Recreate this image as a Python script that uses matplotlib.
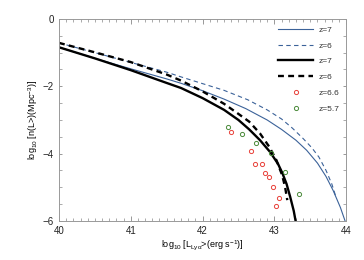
import numpy as np
import matplotlib
matplotlib.use("Agg")
import matplotlib.pyplot as plt
from matplotlib.ticker import MultipleLocator
from matplotlib.legend_handler import HandlerLine2D

plt.rcParams['font.family'] = ['Liberation Sans', 'DejaVu Sans']
plt.rcParams['mathtext.fontset'] = 'custom'
plt.rcParams['mathtext.rm'] = 'Liberation Sans'
plt.rcParams['mathtext.it'] = 'Liberation Sans'

# model curves: log10 L vs log10 n(>L)
blue_solid_x = [40, 40.5, 41, 41.5, 41.7, 42.0, 42.3, 42.6, 42.9, 43.1, 43.3, 43.45, 43.6, 43.72, 43.82, 43.92, 43.99]
blue_solid_y = [-0.84, -1.17, -1.48, -1.78, -1.91, -2.13, -2.38, -2.66, -3.00, -3.28, -3.60, -3.90, -4.28, -4.68, -5.10, -5.60, -6.03]

blue_dash_x = [40, 40.5, 41, 41.5, 41.7, 42.0, 42.3, 42.63, 42.9, 43.1, 43.25, 43.4, 43.52, 43.62, 43.72, 43.8, 43.86]
blue_dash_y = [-0.71, -1.00, -1.29, -1.58, -1.72, -1.92, -2.12, -2.40, -2.70, -2.97, -3.24, -3.55, -3.82, -4.10, -4.50, -4.90, -5.30]

black_solid_x = [40, 40.5, 41, 41.5, 41.7, 42.0, 42.3, 42.5, 42.65, 42.8, 42.94, 43.05, 43.11, 43.17, 43.22, 43.27, 43.3]
black_solid_y = [-0.84, -1.17, -1.52, -1.90, -2.05, -2.35, -2.70, -3.00, -3.28, -3.60, -3.95, -4.30, -4.57, -4.90, -5.28, -5.70, -6.05]

black_dash_x = [40, 40.5, 41, 41.5, 41.7, 42.0, 42.3, 42.5, 42.65, 42.8, 42.93, 43.03, 43.11, 43.15, 43.18]
black_dash_y = [-0.71, -0.99, -1.28, -1.65, -1.83, -2.15, -2.52, -2.82, -3.05, -3.40, -3.80, -4.20, -4.65, -5.00, -5.38]

# observed points
z66_x = [42.39, 42.67, 42.73, 42.83, 42.87, 42.93, 42.98, 43.06, 43.02]
z66_y = [-3.35, -3.91, -4.32, -4.32, -4.58, -4.70, -4.98, -5.33, -5.55]

z57_x = [42.35, 42.55, 42.75, 42.95, 43.15, 43.35]
z57_y = [-3.20, -3.42, -3.67, -3.97, -4.53, -5.21]

blue = '#3b6299'


class RightMarker(HandlerLine2D):
    # put the single legend marker at the right end of the handle
    def get_xdata(self, legend, xdescent, ydescent, width, height, fontsize):
        xdata = np.array([-xdescent, -xdescent + width])
        return xdata, np.array([-xdescent + 0.92 * width])


fig = plt.figure(figsize=(3.64, 2.60), dpi=100)
ax = fig.add_axes([0.162, 0.15, 0.789, 0.777])

ax.plot(blue_solid_x, blue_solid_y, '-', color=blue, lw=0.8, label='z=7')
ax.plot(blue_dash_x, blue_dash_y, '--', color=blue, lw=0.8, dashes=(4, 3), label='z=6')
ax.plot(black_solid_x, black_solid_y, '-', color='black', lw=1.7, label='z=7')
ax.plot(black_dash_x, black_dash_y, '--', color='black', lw=1.7, dashes=(2.5, 1.8), label='z=6')
p66, = ax.plot(z66_x, z66_y, 'o', mfc='none', mec='#e8413a', ms=3, mew=0.7, label='z=6.6')
p57, = ax.plot(z57_x, z57_y, 'o', mfc='none', mec='#4a8a3a', ms=3, mew=0.7, label='z=5.7')

ax.set_xlim(40, 44)
ax.set_ylim(-6, 0)
ax.xaxis.set_major_locator(MultipleLocator(1))
ax.xaxis.set_minor_locator(MultipleLocator(0.1))
ax.yaxis.set_major_locator(MultipleLocator(2))
ax.yaxis.set_minor_locator(MultipleLocator(0.5))
ax.tick_params(which='both', direction='in', top=True, right=True,
               color='#888888', labelsize=7, labelcolor='#222222')
ax.tick_params(which='major', length=3.5, width=0.6)
ax.tick_params(which='minor', length=2, width=0.5)
ax.tick_params(axis='y', which='major', length=2)
for s in ax.spines.values():
    s.set_color('#999999')
    s.set_linewidth(0.7)

ax.set_xlabel(r'log$_{10}$ [L$_{\rm Ly\alpha}$>(erg s$^{-1}$)]', fontsize=6.5, labelpad=2)
ax.set_ylabel(r'log$_{10}$ [n(L>)(Mpc$^{-3}$)]', fontsize=6.5, labelpad=2)

leg = ax.legend(loc='upper right', frameon=False, fontsize=6, handlelength=4.2,
                numpoints=1, labelspacing=0.95, borderaxespad=0.45, handletextpad=0.6,
                handler_map={p66: RightMarker(), p57: RightMarker()})
for t in leg.get_texts():
    t.set_color('#333333')

fig.savefig('out.png', dpi=100)
